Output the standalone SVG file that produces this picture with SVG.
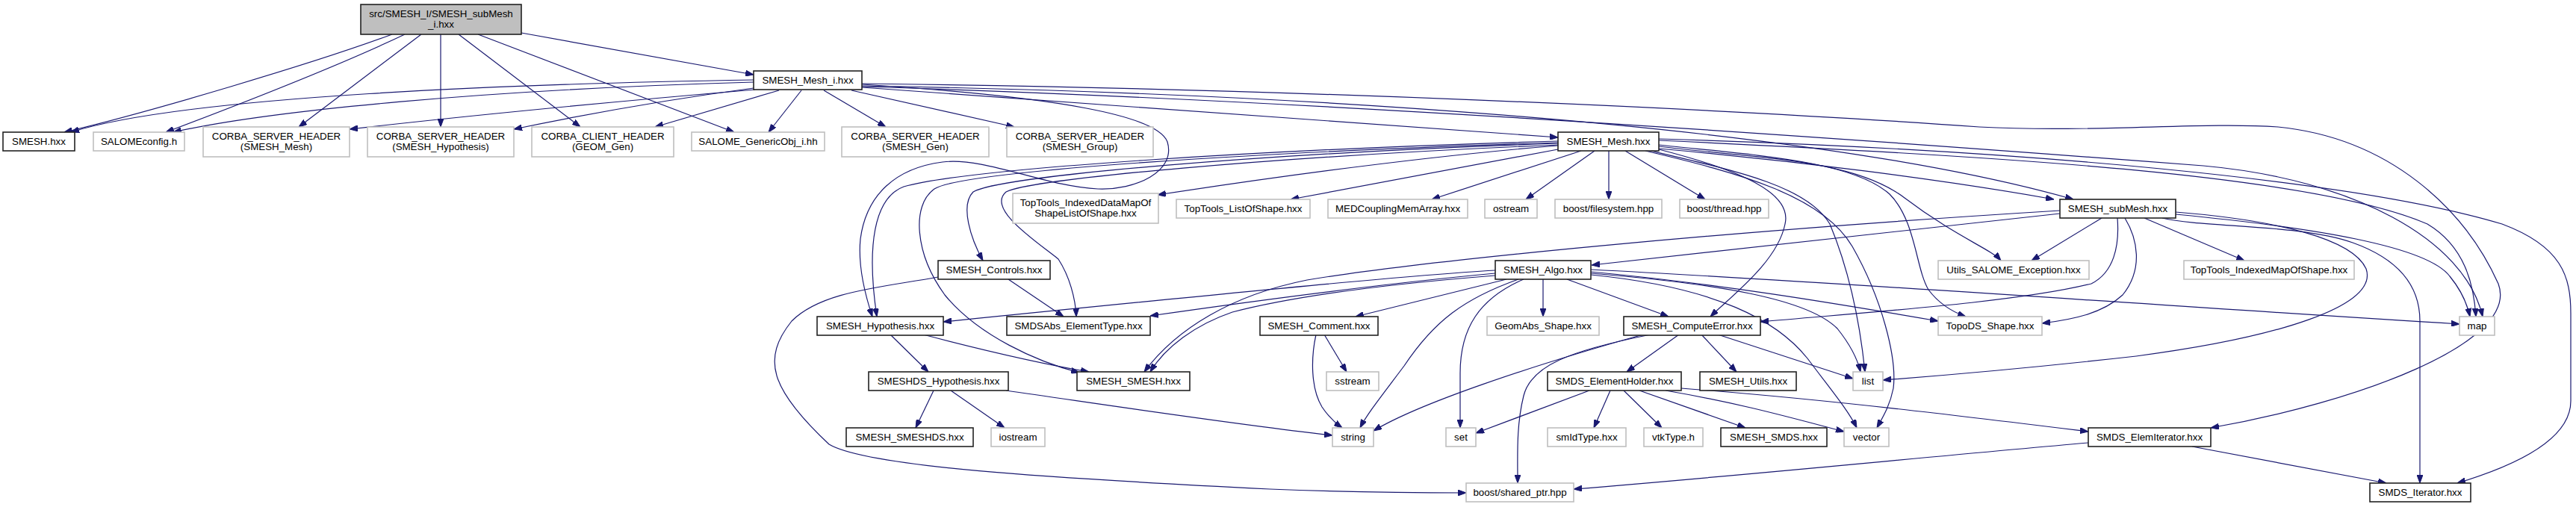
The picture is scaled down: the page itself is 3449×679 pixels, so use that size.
<svg xmlns="http://www.w3.org/2000/svg" width="3449" height="679" viewBox="0 0 3449 679">
<style>
text{font-family:"Liberation Sans",Arial,sans-serif;font-size:13.33px;text-anchor:middle;fill:#000}
.b rect{fill:#fff;stroke:#222;stroke-width:1.6}
.g rect{fill:#fff;stroke:#bfbfbf;stroke-width:1.6}
.r rect{fill:#bfbfbf;stroke:#222;stroke-width:1.6}
.e path{fill:none;stroke:#191970;stroke-width:1.2;marker-end:url(#a)}
</style>
<defs>
<marker id="a" markerWidth="11" markerHeight="8" refX="11" refY="4" orient="auto" markerUnits="userSpaceOnUse">
<path d="M0,0 L11,4 L0,8 z" fill="#191970" stroke="#191970" stroke-width="1"/>
</marker>
</defs>
<rect width="3449" height="679" fill="#fff"/>
<g id="edges" class="e">
<path d="M525,46 C420,85 200,150 86,177"/>
<path d="M542,46 C460,85 320,140 222,177"/>
<path d="M564,46 L400,170"/>
<path d="M590,46 L590,170"/>
<path d="M614,46 L777,170"/>
<path d="M640,46 L983,177"/>
<path d="M698,44 L1009,100"/>
<path d="M1009,107 C700,112 250,128 95,177"/>
<path d="M1009,110 C650,120 360,148 232,177"/>
<path d="M1011,120 C800,138 600,158 468,173"/>
<path d="M1009,118 C880,135 770,156 688,173"/>
<path d="M1043,121 L877,170"/>
<path d="M1073,121 L1029,177"/>
<path d="M1103,121 L1186,170"/>
<path d="M1140,121 L1358,170"/>
<path d="M1154,117 C1500,140 1800,165 2086,184"/>
<path d="M1154,113 C1420,130 1550,155 1563,190 C1575,230 1520,255 1470,253 C1400,250 1320,210 1262,217 C1200,225 1160,260 1152,320 C1148,360 1160,400 1168,424"/>
<path d="M1154,115 C1650,123 2400,160 2776,267"/>
<path d="M1154,112 C1700,118 2300,145 2650,170 C2800,178 2950,163 3050,170 C3200,185 3300,280 3345,380 C3375,460 3150,540 2960,573"/>
<path d="M1154,116 C1800,135 2600,195 2950,222 C3150,240 3300,320 3324,424"/>
<path d="M2086,195 C1900,210 1700,238 1550,261"/>
<path d="M2086,200 L1728,267"/>
<path d="M2117,202 L1917,267"/>
<path d="M2135,202 L2043,267"/>
<path d="M2154,202 L2154,267"/>
<path d="M2176,202 L2283,267"/>
<path d="M2086,189 C1700,200 1300,225 1210,250 C1170,265 1160,330 1174,424"/>
<path d="M2086,192 C1700,205 1340,235 1303,257 C1285,275 1300,320 1316,349"/>
<path d="M2086,191 C1700,203 1290,228 1251,253 C1220,275 1225,340 1265,395 C1310,450 1390,485 1445,499"/>
<path d="M2086,194 C1700,210 1380,240 1347,257 C1320,280 1390,325 1417,347 C1432,370 1440,400 1441,424"/>
<path d="M2221,199 C2400,215 2600,240 2750,267"/>
<path d="M2221,196 C2350,212 2480,212 2550,265 C2620,318 2665,333 2679,349"/>
<path d="M2221,200 C2330,228 2400,258 2390,300 C2380,350 2320,395 2290,424"/>
<path d="M2210,202 C2330,230 2420,250 2450,300 C2475,360 2490,430 2497,498"/>
<path d="M2203,202 C2330,232 2440,262 2480,330 C2520,400 2540,480 2535,520 C2530,545 2520,560 2513,573"/>
<path d="M2221,194 C2350,208 2480,215 2530,260 C2565,295 2565,360 2582,388 C2597,408 2615,418 2632,424"/>
<path d="M2221,188 C2700,210 3100,235 3250,300 C3300,330 3312,380 3315,424"/>
<path d="M2221,186 C2700,200 3150,240 3350,300 C3430,330 3442,370 3442,420 L3442,537 C3442,585 3380,620 3290,647"/>
<path d="M2758,286 L2131,355"/>
<path d="M2758,282 C2300,310 1900,350 1750,375 C1650,395 1575,440 1532,498"/>
<path d="M2814,292 L2720,349"/>
<path d="M2835,292 C2838,330 2830,365 2800,380 C2700,405 2500,418 2357,431"/>
<path d="M2845,292 C2862,320 2870,360 2842,395 C2815,420 2775,428 2734,433"/>
<path d="M2871,292 L3005,349"/>
<path d="M2913,284 C3050,295 3150,320 3168,360 C3185,410 3050,452 2860,477 C2700,495 2600,503 2521,509"/>
<path d="M2895,292 C2950,305 3080,300 3150,325 C3220,350 3240,390 3240,430 L3240,647"/>
<path d="M2913,287 C3100,305 3250,330 3280,370 C3298,392 3304,410 3307,424"/>
<path d="M1350,374 L1424,424"/>
<path d="M1256,371 C1180,385 1100,390 1060,430 C1020,480 1030,520 1110,595 C1160,625 1400,640 1700,655 C1800,659 1880,660 1963,660"/>
<path d="M1192,448 L1243,498"/>
<path d="M1236,448 C1320,470 1400,488 1458,498"/>
<path d="M1250,523 L1226,573"/>
<path d="M1273,523 L1345,573"/>
<path d="M1347,523 C1500,545 1650,568 1784,583"/>
<path d="M2017,374 L1815,424"/>
<path d="M2033,374 C1960,400 1920,430 1880,490 C1850,530 1830,555 1821,573"/>
<path d="M2040,374 C1980,400 1955,440 1955,500 L1955,573"/>
<path d="M2066,374 L2066,424"/>
<path d="M2098,374 L2234,424"/>
<path d="M2002,362 C1900,368 1750,382 1263,431"/>
<path d="M2002,366 C1850,380 1700,400 1540,423"/>
<path d="M2002,369 C1800,385 1700,405 1650,418 C1600,435 1560,465 1540,498"/>
<path d="M2130,364 C2300,380 2450,405 2595,430"/>
<path d="M2130,366 C2300,380 2420,400 2460,440 C2480,465 2488,485 2491,498"/>
<path d="M2130,368 C2300,385 2380,430 2420,480 C2450,520 2475,550 2486,573"/>
<path d="M2130,361 C2500,380 2900,410 3293,434"/>
<path d="M1773,448 L1803,498"/>
<path d="M1762,448 C1755,480 1755,520 1770,545 C1780,560 1790,568 1797,573"/>
<path d="M2248,448 L2178,498"/>
<path d="M2278,448 L2325,498"/>
<path d="M2300,448 L2481,507"/>
<path d="M2200,448 C2050,490 1900,540 1839,577"/>
<path d="M2210,448 C2100,470 2050,490 2040,530 C2030,570 2032,610 2032,647"/>
<path d="M2128,523 L1976,580"/>
<path d="M2156,523 L2134,573"/>
<path d="M2174,523 L2225,573"/>
<path d="M2195,523 L2337,573"/>
<path d="M2230,523 C2330,540 2400,560 2469,578"/>
<path d="M2251,520 C2450,535 2650,560 2796,578"/>
<path d="M2935,598 L3195,647"/>
<path d="M2796,593 C2600,610 2300,640 2107,655"/>
</g>
<g id="root" class="r"><rect x="483" y="6" width="215" height="40"/><text x="590.5" y="23">src/SMESH_I/SMESH_subMesh</text><text x="590.5" y="37">_i.hxx</text></g>
<g id="meshi" class="b"><rect x="1009" y="95" width="145" height="25"/><text x="1081.5" y="112">SMESH_Mesh_i.hxx</text></g>
<g id="smesh" class="b"><rect x="4" y="177" width="96" height="25"/><text x="52" y="194">SMESH.hxx</text></g>
<g id="salcfg" class="g"><rect x="125" y="177" width="122" height="25"/><text x="186" y="194">SALOMEconfig.h</text></g>
<g id="csmesh" class="g"><rect x="272" y="170" width="196" height="40"/><text x="370" y="187">CORBA_SERVER_HEADER</text><text x="370" y="201">(SMESH_Mesh)</text></g>
<g id="chyp" class="g"><rect x="492" y="170" width="196" height="40"/><text x="590" y="187">CORBA_SERVER_HEADER</text><text x="590" y="201">(SMESH_Hypothesis)</text></g>
<g id="cgeom" class="g"><rect x="712" y="170" width="190" height="40"/><text x="807" y="187">CORBA_CLIENT_HEADER</text><text x="807" y="201">(GEOM_Gen)</text></g>
<g id="gobj" class="g"><rect x="926" y="177" width="178" height="25"/><text x="1015" y="194">SALOME_GenericObj_i.hh</text></g>
<g id="cgen" class="g"><rect x="1127" y="170" width="197" height="40"/><text x="1225.5" y="187">CORBA_SERVER_HEADER</text><text x="1225.5" y="201">(SMESH_Gen)</text></g>
<g id="cgrp" class="g"><rect x="1348" y="170" width="196" height="40"/><text x="1446" y="187">CORBA_SERVER_HEADER</text><text x="1446" y="201">(SMESH_Group)</text></g>
<g id="mesh" class="b"><rect x="2086" y="177" width="135" height="25"/><text x="2153.5" y="194">SMESH_Mesh.hxx</text></g>
<g id="ttdm" class="g"><rect x="1356" y="259" width="195" height="40"/><text x="1453.5" y="276">TopTools_IndexedDataMapOf</text><text x="1453.5" y="290">ShapeListOfShape.hxx</text></g>
<g id="ttls" class="g"><rect x="1575" y="267" width="179" height="25"/><text x="1664.5" y="284">TopTools_ListOfShape.hxx</text></g>
<g id="medc" class="g"><rect x="1778" y="267" width="187" height="25"/><text x="1871.5" y="284">MEDCouplingMemArray.hxx</text></g>
<g id="ostr" class="g"><rect x="1988" y="267" width="70" height="25"/><text x="2023" y="284">ostream</text></g>
<g id="bfs" class="g"><rect x="2082" y="267" width="143" height="25"/><text x="2153.5" y="284">boost/filesystem.hpp</text></g>
<g id="bthr" class="g"><rect x="2249" y="267" width="119" height="25"/><text x="2308.5" y="284">boost/thread.hpp</text></g>
<g id="sub" class="b"><rect x="2758" y="267" width="155" height="25"/><text x="2835.5" y="284">SMESH_subMesh.hxx</text></g>
<g id="ctrl" class="b"><rect x="1256" y="349" width="150" height="25"/><text x="1331" y="366">SMESH_Controls.hxx</text></g>
<g id="algo" class="b"><rect x="2002" y="349" width="128" height="25"/><text x="2066" y="366">SMESH_Algo.hxx</text></g>
<g id="uexc" class="g"><rect x="2595" y="349" width="202" height="25"/><text x="2696" y="366">Utils_SALOME_Exception.hxx</text></g>
<g id="ttim" class="g"><rect x="2924" y="349" width="228" height="25"/><text x="3038" y="366">TopTools_IndexedMapOfShape.hxx</text></g>
<g id="hyp" class="b"><rect x="1094" y="424" width="169" height="25"/><text x="1178.5" y="441">SMESH_Hypothesis.hxx</text></g>
<g id="sdat" class="b"><rect x="1348" y="424" width="192" height="25"/><text x="1444" y="441">SMDSAbs_ElementType.hxx</text></g>
<g id="comm" class="b"><rect x="1687" y="424" width="158" height="25"/><text x="1766" y="441">SMESH_Comment.hxx</text></g>
<g id="geom" class="g"><rect x="1991" y="424" width="150" height="25"/><text x="2066" y="441">GeomAbs_Shape.hxx</text></g>
<g id="cerr" class="b"><rect x="2174" y="424" width="183" height="25"/><text x="2265.5" y="441">SMESH_ComputeError.hxx</text></g>
<g id="tods" class="g"><rect x="2595" y="424" width="139" height="25"/><text x="2664.5" y="441">TopoDS_Shape.hxx</text></g>
<g id="map" class="g"><rect x="3293" y="424" width="47" height="25"/><text x="3316.5" y="441">map</text></g>
<g id="dshyp" class="b"><rect x="1163" y="498" width="187" height="25"/><text x="1256.5" y="515">SMESHDS_Hypothesis.hxx</text></g>
<g id="ssm" class="b"><rect x="1442" y="498" width="151" height="25"/><text x="1517.5" y="515">SMESH_SMESH.hxx</text></g>
<g id="sstr" class="g"><rect x="1776" y="498" width="70" height="25"/><text x="1811" y="515">sstream</text></g>
<g id="eh" class="b"><rect x="2072" y="498" width="179" height="25"/><text x="2161.5" y="515">SMDS_ElementHolder.hxx</text></g>
<g id="util" class="b"><rect x="2276" y="498" width="129" height="25"/><text x="2340.5" y="515">SMESH_Utils.hxx</text></g>
<g id="list" class="g"><rect x="2481" y="498" width="40" height="25"/><text x="2501" y="515">list</text></g>
<g id="ssds" class="b"><rect x="1133" y="573" width="170" height="25"/><text x="1218" y="590">SMESH_SMESHDS.hxx</text></g>
<g id="iost" class="g"><rect x="1327" y="573" width="72" height="25"/><text x="1363" y="590">iostream</text></g>
<g id="str" class="g"><rect x="1784" y="573" width="55" height="25"/><text x="1811.5" y="590">string</text></g>
<g id="set" class="g"><rect x="1936" y="573" width="40" height="25"/><text x="1956" y="590">set</text></g>
<g id="smid" class="g"><rect x="2072" y="573" width="105" height="25"/><text x="2124.5" y="590">smIdType.hxx</text></g>
<g id="vtk" class="g"><rect x="2201" y="573" width="79" height="25"/><text x="2240.5" y="590">vtkType.h</text></g>
<g id="smds" class="b"><rect x="2304" y="573" width="142" height="25"/><text x="2375" y="590">SMESH_SMDS.hxx</text></g>
<g id="vec" class="g"><rect x="2469" y="573" width="60" height="25"/><text x="2499" y="590">vector</text></g>
<g id="eit" class="b"><rect x="2796" y="573" width="164" height="25"/><text x="2878" y="590">SMDS_ElemIterator.hxx</text></g>
<g id="bsp" class="g"><rect x="1963" y="647" width="144" height="25"/><text x="2035" y="664">boost/shared_ptr.hpp</text></g>
<g id="it" class="b"><rect x="3173" y="647" width="135" height="25"/><text x="3240.5" y="664">SMDS_Iterator.hxx</text></g>
</svg>
